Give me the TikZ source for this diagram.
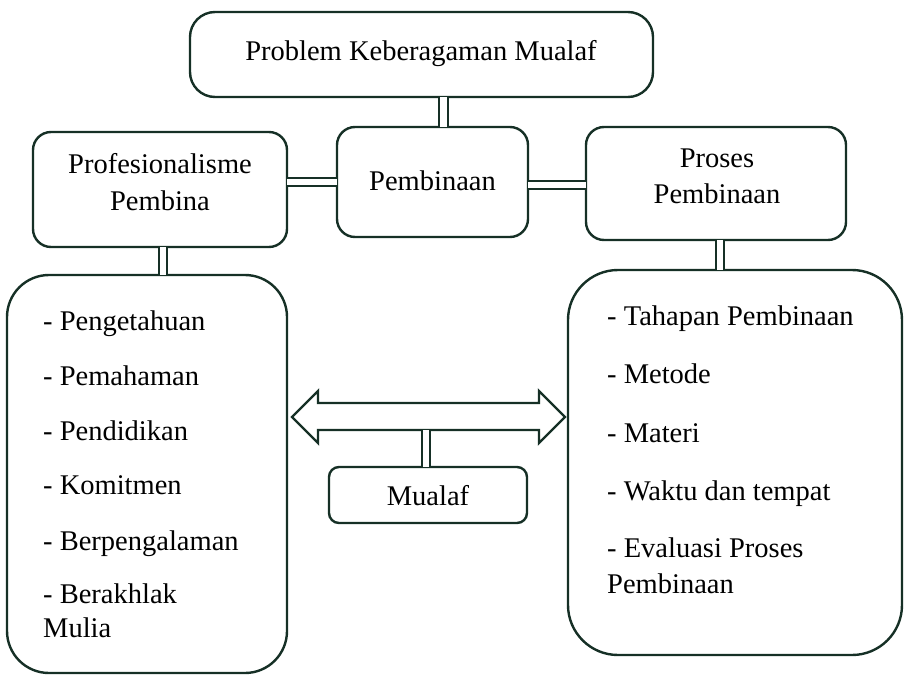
\documentclass[tikz,border=0pt]{standalone}
\usepackage{fontspec}
\setmainfont{Liberation Serif}
\newfontfamily\tnr{Liberation Serif}
\begin{document}
\begin{tikzpicture}[x=1pt,y=-1pt,
  lc/.style={draw={rgb,255:red,22;green,48;blue,38}},
  box/.style={lc,line width=2.4pt,inner sep=0pt,outer sep=0pt,fill=white},
  dbl/.style={line width=2.2pt,draw={rgb,255:red,22;green,48;blue,38},double=white,double distance=6.5pt},
  lbl/.style={font=\tnr\fontsize{28.5}{34}\selectfont,inner sep=0pt,anchor=base},
  item/.style={font=\tnr\fontsize{28.5}{34}\selectfont,inner sep=0pt,anchor=base west}]
\useasboundingbox (0,0) rectangle (905,675);
% boxes
\node[box,rounded corners=25pt,minimum width=463pt,minimum height=85pt] (top) at (421.5,54.5) {};
\node[box,rounded corners=18pt,minimum width=191pt,minimum height=110pt] (pemb) at (432.5,182) {};
\node[box,rounded corners=18pt,minimum width=254pt,minimum height=115pt] (prof) at (160,189.5) {};
\node[box,rounded corners=18pt,minimum width=260pt,minimum height=113pt] (proses) at (716,183.5) {};
\node[box,rounded corners=42pt,minimum width=280pt,minimum height=398pt] (left) at (147,474) {};
\node[box,rounded corners=50pt,minimum width=334pt,minimum height=385pt] (right) at (735,462.5) {};
\node[box,rounded corners=10pt,minimum width=198pt,minimum height=56pt] (mualaf) at (428,495) {};
% connectors
\draw[dbl] ([xshift=11pt]pemb.north) -- ([xshift=11pt]pemb.north |- top.south);
\draw[dbl] (pemb.west) -- (pemb.west -| prof.east);
\draw[dbl] ([yshift=-3pt]pemb.east) -- ([yshift=-3pt]pemb.east -| proses.west);
\draw[dbl] ([xshift=3pt]prof.south) -- ([xshift=3pt]prof.south |- left.north);
\draw[dbl] ([xshift=4pt]proses.south) -- ([xshift=4pt]proses.south |- right.north);
% double block arrow
\draw[lc,line width=2.4pt,line join=miter,fill=white]
  (292,417) -- (318,391) -- (318,403) -- (539,403) -- (539,391) -- (565,417)
  -- (539,443) -- (539,430) -- (318,430) -- (318,443) -- cycle;
\coordinate (arrowbot) at (426,430);
\draw[dbl] (arrowbot) -- (arrowbot |- mualaf.north);
% texts
\node[lbl] (ttop) at (421,60) {Problem Keberagaman Mualaf};
\node[lbl] (tpemb) at (432.5,190) {Pembinaan};
\node[lbl] (tprof1) at (160,173) {Profesionalisme};
\node[lbl] (tprof2) at (160,210) {Pembina};
\node[lbl] (tpros1) at (717,167) {Proses};
\node[lbl] (tpros2) at (717,203) {Pembinaan};
\node[lbl] (tmualaf) at (428,505) {Mualaf};
% left list
\node[item] (l1) at (43,330) {- Pengetahuan};
\node[item] (l2) at (43,385) {- Pemahaman};
\node[item] (l3) at (43,440) {- Pendidikan};
\node[item] (l4) at (43,494) {- Komitmen};
\node[item] (l5) at (43,550) {- Berpengalaman};
\node[item] (l6) at (43,603) {- Berakhlak};
\node[item] (l7) at (43,637) {Mulia};
% right list
\node[item] (r1) at (607,325) {- Tahapan Pembinaan};
\node[item] (r2) at (607,383) {- Metode};
\node[item] (r3) at (607,442) {- Materi};
\node[item] (r4) at (607,500) {- Waktu dan tempat};
\node[item] (r5) at (607,557) {- Evaluasi Proses};
\node[item] (r6) at (607,593) {Pembinaan};
\end{tikzpicture}
\end{document}
